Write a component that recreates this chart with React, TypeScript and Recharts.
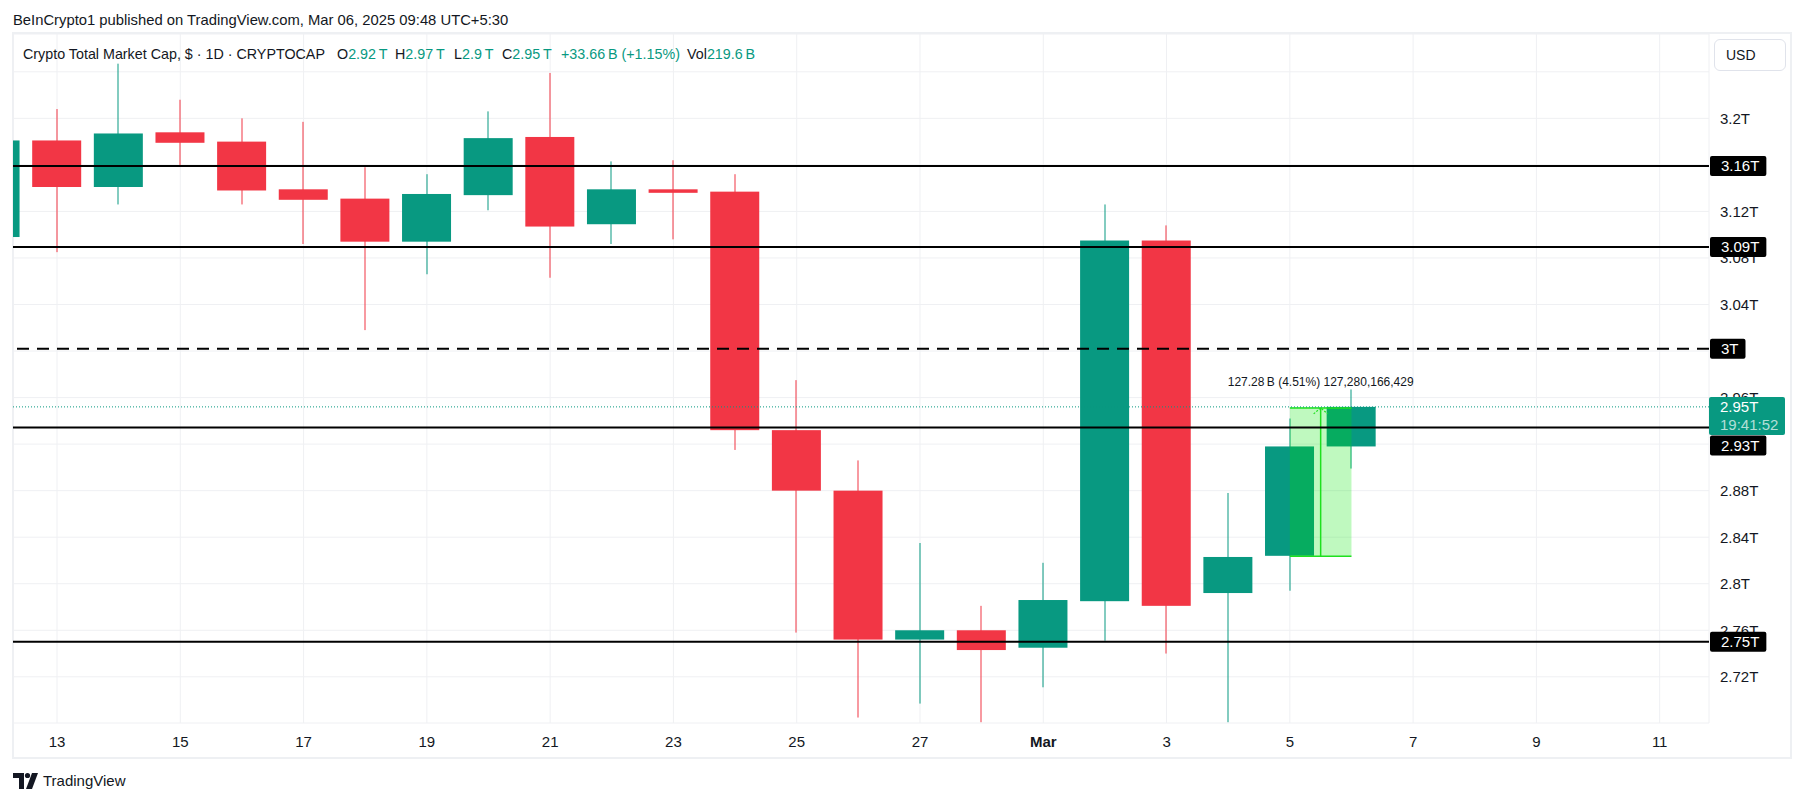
import React from 'react';
import {
  ComposedChart,
  Bar,
  XAxis,
  YAxis,
  CartesianGrid,
  ReferenceLine,
  ReferenceArea,
} from 'recharts';

// day index: 0 = Feb 12, 17 = Mar 1
const candleDays = [0, 1, 2, 3, 4, 5, 6, 7, 8, 9, 10, 11, 12, 13, 14, 15, 16, 17, 18, 19, 20, 21, 22];
const opens = [3.098, 3.181, 3.141, 3.188, 3.180, 3.139, 3.131, 3.094, 3.134, 3.184, 3.109, 3.139, 3.137, 2.932, 2.880, 2.752, 2.760, 2.745, 2.785, 3.095, 2.792, 2.824, 2.918];
const highs = [3.190, 3.208, 3.247, 3.216, 3.200, 3.197, 3.158, 3.152, 3.206, 3.239, 3.163, 3.164, 3.152, 2.975, 2.906, 2.835, 2.781, 2.818, 3.126, 3.108, 2.878, 2.942, 2.967];
const lows = [3.090, 3.085, 3.126, 3.159, 3.126, 3.092, 3.018, 3.066, 3.121, 3.063, 3.092, 3.096, 2.915, 2.758, 2.685, 2.697, 2.681, 2.711, 2.751, 2.740, 2.681, 2.794, 2.899];
const closes = [3.181, 3.141, 3.187, 3.179, 3.138, 3.130, 3.094, 3.135, 3.183, 3.107, 3.139, 3.136, 2.932, 2.880, 2.752, 2.760, 2.743, 2.786, 3.095, 2.781, 2.823, 2.918, 2.952];

const xTicks = [1, 3, 5, 7, 9, 11, 13, 15, 17, 19, 21, 23, 25, 27];
const xTickLabels = ['13', '15', '17', '19', '21', '23', '25', '27', 'Mar', '3', '5', '7', '9', '11'];

const yTicks = [2.72, 2.76, 2.8, 2.84, 2.88, 2.92, 2.96, 3.0, 3.04, 3.08, 3.12, 3.16, 3.2, 3.24];
const yTickLabels = ['2.72T', '2.76T', '2.8T', '2.84T', '2.88T', '2.92T', '2.96T', '3T', '3.04T', '3.08T', '3.12T', '3.16T', '3.2T', ''];

const levelValues = [3.159, 3.0895, 3.002, 2.9342, 2.7502];
const levelLabels = ['3.16T', '3.09T', '3T', '2.93T', '2.75T'];

const lastPrice = 2.952;
const lastPriceLabel = '2.95T';
const countdown = '19:41:52';

const measureDays = [21, 22];
const measurePrices = [2.8236, 2.952];
const measureText = '127.28\u2009B (4.51%) 127,280,166,429';

const headerTitle = 'Crypto Total Market Cap, $ \u00b7 1D \u00b7 CRYPTOCAP';
const headerOhlc = [
  { k: 'O', v: '2.92\u2009T', left: 337 },
  { k: 'H', v: '2.97\u2009T', left: 395 },
  { k: 'L', v: '2.9\u2009T', left: 454 },
  { k: 'C', v: '2.95\u2009T', left: 502 },
];
const headerChange = '+33.66\u2009B (+1.15%)';
const headerVol = '219.6\u2009B';

const UP = '#089981';
const DOWN = '#F23645';
const INK = '#131722';
const FONT = "Arial, 'Liberation Sans', sans-serif";
const AXIS_X = 1709;
const DASHED = new Set(['3T']);
const LABEL_NUDGE: Record<string, number> = { '2.93T': 18 };

const data = candleDays.map((d, i) => ({
  day: d,
  open: opens[i],
  high: highs[i],
  low: lows[i],
  close: closes[i],
  range: [lows[i], highs[i]],
}));

const charW: Record<string, number> = { '.': 0.278, T: 0.611, ':': 0.278 };
const textWidth = (s: string, size: number) =>
  s.split('').reduce((a, c) => a + (charW[c] ?? 0.556), 0) * size;

const Candle = (props: any) => {
  let { x, y, width, height } = props;
  const { open, close, high, low } = props.payload;
  if (height < 0) { y += height; height = -height; }
  const color = close >= open ? UP : DOWN;
  const k = height / (high - low);
  const top = y + (high - Math.max(open, close)) * k;
  const bot = y + (high - Math.min(open, close)) * k;
  const cx = Math.round(x + width / 2);
  return (
    <g>
      <rect x={cx - 0.5} y={y} width={1} height={height} fill={color} />
      <rect x={x} y={top} width={width} height={Math.max(bot - top, 1)} fill={color} />
    </g>
  );
};

// price-scale badges, drawn by a second axis so they sit above the tick labels
const BadgeTick = (props: any) => {
  const v = props.payload.value;
  const yc = props.y;
  if (v === lastPrice) {
    return (
      <g>
        <rect x={AXIS_X} y={yc - 10} width={76} height={38} rx={2} fill={UP} />
        <text x={AXIS_X + 11} y={yc} dy="0.36em" fill="#fff" fontSize={15} fontFamily={FONT}>{lastPriceLabel}</text>
        <text x={AXIS_X + 11} y={yc + 18} dy="0.36em" fill="rgba(255,255,255,0.7)" fontSize={15} fontFamily={FONT}>{countdown}</text>
      </g>
    );
  }
  const i = levelValues.indexOf(v);
  if (i < 0) return <g />;
  const text = levelLabels[i];
  const y = yc + (LABEL_NUDGE[text] || 0);
  const w = textWidth(text, 15) + 18;
  return (
    <g>
      <rect x={AXIS_X + 1} y={y - 10} width={w} height={20} rx={2} fill="#000" />
      <text x={AXIS_X + 12} y={y} dy="0.36em" fill="#fff" fontSize={15} fontFamily={FONT}>{text}</text>
    </g>
  );
};

const measureLabel = (props: any) => {
  const vb = props.viewBox || {};
  const { x, y, width, height } = vb;
  const cx = x + width / 2;
  const g = '#1ee01e';
  return (
    <g>
      <line x1={x} y1={y + 1} x2={x + width} y2={y + 1} stroke={g} strokeWidth={1.5} />
      <line x1={x} y1={y + height} x2={x + width} y2={y + height} stroke={g} strokeWidth={1.5} />
      <line x1={cx} y1={y + height} x2={cx} y2={y + 1} stroke={g} strokeWidth={1.5} />
      <polyline points={`${cx - 7},${y + 7} ${cx},${y + 1} ${cx + 7},${y + 7}`} fill="none" stroke={g} strokeWidth={1.2} strokeDasharray="2 1.5" />
      <text x={cx} y={y - 25} dy="0.36em" textAnchor="middle" fill={INK} fontSize={12} fontFamily={FONT}>{measureText}</text>
    </g>
  );
};

const YTick = (props: any) => {
  const i = yTicks.indexOf(props.payload.value);
  const label = i >= 0 ? yTickLabels[i] : '';
  return (
    <text x={AXIS_X + 11} y={props.y} dy="0.36em" fill={INK} fontSize={15} fontFamily={FONT}>{label}</text>
  );
};

const XTick = (props: any) => {
  const i = xTicks.indexOf(props.payload.value);
  const label = i >= 0 ? xTickLabels[i] : '';
  return (
    <text x={props.x} y={742} dy="0.36em" textAnchor="middle" fill={INK} fontSize={15}
      fontWeight={label === 'Mar' ? 700 : 400} fontFamily={FONT}>{label}</text>
  );
};

const TvLogo = () => (
  <svg width={26} height={18} viewBox="0 0 26 18" style={{ position: 'absolute', left: 13, top: 772 }}>
    <path d="M0 1h11v16H6V6H0z" fill={INK} />
    <circle cx={14.5} cy={3.5} r={2.6} fill={INK} />
    <path d="M19 1h6l-6 16h-6z" fill={INK} />
  </svg>
);

const yDomain = [2.6803, 3.2725];

export default function App() {
  return (
    <div style={{ position: 'absolute', left: 0, top: 0, width: 1804, height: 803, background: '#fff', fontFamily: FONT, color: INK }}>
      <div style={{ position: 'absolute', left: 12, top: 32, width: 1780, height: 727, border: '2px solid #eef0f3', boxSizing: 'border-box' }} />
      <div style={{ position: 'absolute', left: 13, top: 11, fontSize: 14.8, lineHeight: '18px', whiteSpace: 'nowrap' }}>
        BeInCrypto1 published on TradingView.com, Mar 06, 2025 09:48 UTC+5:30
      </div>

      <div style={{ position: 'absolute', left: 0, top: 0 }}>
        <ComposedChart width={1804} height={803} data={data} margin={{ top: 34, right: 13, bottom: 45, left: 13 }}>
          <CartesianGrid stroke="#eff0f3" strokeWidth={1} />
          <XAxis
            dataKey="day"
            type="number"
            domain={[0.286, 27.8]}
            allowDataOverflow
            ticks={xTicks}
            height={35}
            axisLine={false}
            tickLine={false}
            tick={<XTick />}
          />
          <YAxis
            orientation="right"
            type="number"
            domain={yDomain}
            allowDataOverflow
            ticks={yTicks}
            interval={0}
            width={81}
            axisLine={false}
            tickLine={false}
            tick={<YTick />}
          />
          <YAxis
            yAxisId="badges"
            orientation="right"
            type="number"
            domain={yDomain}
            allowDataOverflow
            ticks={[...levelValues, lastPrice]}
            interval={0}
            width={1}
            axisLine={false}
            tickLine={false}
            tick={<BadgeTick />}
          />
          <Bar dataKey="range" barSize={49} shape={<Candle />} isAnimationActive={false} />
          <ReferenceArea
            x1={measureDays[0]}
            x2={measureDays[1]}
            y1={measurePrices[0]}
            y2={measurePrices[1]}
            fill="rgb(0,230,0)"
            fillOpacity={0.25}
            stroke="none"
            label={measureLabel}
            zIndex={700}
          />
          {levelValues.map((v, i) => (
            <ReferenceLine
              key={levelLabels[i]}
              y={v}
              stroke="#000"
              strokeWidth={2}
              strokeDasharray={DASHED.has(levelLabels[i]) ? '12 8' : undefined}
              zIndex={800}
            />
          ))}
          <ReferenceLine y={lastPrice} stroke={UP} strokeWidth={1} strokeDasharray="1 2" zIndex={800} />
        </ComposedChart>
      </div>

      <div style={{ position: 'absolute', left: 23, top: 45, fontSize: 14.3, lineHeight: '18px', whiteSpace: 'nowrap' }}>
        {headerTitle}
      </div>
      {headerOhlc.map(h => (
        <div key={h.k} style={{ position: 'absolute', left: h.left, top: 45, fontSize: 14.3, lineHeight: '18px', whiteSpace: 'nowrap' }}>
          {h.k}<span style={{ color: UP }}>{h.v}</span>
        </div>
      ))}
      <div style={{ position: 'absolute', left: 561, top: 45, fontSize: 14.3, lineHeight: '18px', whiteSpace: 'nowrap', color: UP }}>
        {headerChange}
      </div>
      <div style={{ position: 'absolute', left: 687, top: 45, fontSize: 14.3, lineHeight: '18px', whiteSpace: 'nowrap' }}>
        Vol<span style={{ color: UP }}>{headerVol}</span>
      </div>

      <div style={{ position: 'absolute', left: 1714, top: 39, width: 72, height: 32, border: '1px solid #e0e3eb', borderRadius: 6, boxSizing: 'border-box', fontSize: 14, lineHeight: '30px', paddingLeft: 11 }}>
        USD
      </div>

      <TvLogo />
      <div style={{ position: 'absolute', left: 43, top: 771, fontSize: 15, lineHeight: '20px', whiteSpace: 'nowrap' }}>
        TradingView
      </div>
    </div>
  );
}
